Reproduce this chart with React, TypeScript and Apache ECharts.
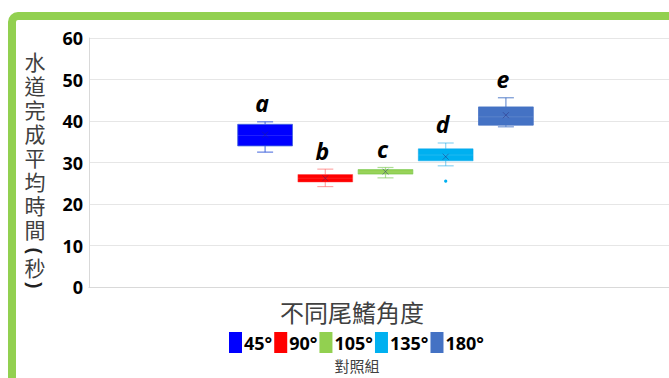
import React, { useEffect, useRef } from "react";
import * as echarts from "echarts";

const categories = ["45°", "90°", "105°", "135°", "180°"];
const whiskerMin = [32.5, 24.2, 26.3, 29.2, 38.6];
const quartile1 = [34.0, 25.3, 27.2, 30.4, 39.0];
const medians = [36.5, 26.2, 27.7, 31.8, 41.0];
const quartile3 = [39.2, 27.1, 28.3, 33.3, 43.4];
const whiskerMax = [39.8, 28.4, 28.8, 34.7, 45.6];
const means = [36.7, 26.2, 27.8, 31.4, 41.4];
const outliers: number[][] = [[], [], [], [25.5], []];
const letters = ["a", "b", "c", "d", "e"];
const yAxisTitleChars = ["水", "道", "完", "成", "平", "均", "時", "間"];
const yAxisTitleUnit = ["(", "秒", ")"];
const xAxisTitle = "不同尾鰭角度";
const subLabel = "對照組";

const fills = ["#0000FF", "#FF0000", "#92D050", "#00B0F0", "#4472C4"];
const lights = [
  "rgba(68,102,221,0.85)",
  "rgba(255,60,60,0.45)",
  "rgba(120,200,80,0.6)",
  "rgba(0,160,230,0.45)",
  "rgba(68,114,196,0.75)",
];

const CJK = '"Noto Sans CJK TC", "Noto Sans", sans-serif';
const NUM = '"Noto Sans", "Liberation Sans", sans-serif';

export default function App() {
  const ref = useRef<HTMLDivElement>(null);
  useEffect(() => {
    if (!ref.current) return;
    const chart = echarts.init(ref.current, null, { renderer: "svg" });

    const series: any[] = categories.map((name, i) => ({
      name,
      type: "custom",
      xAxisIndex: 1,
      yAxisIndex: 1,
      itemStyle: { color: fills[i] },
      dimensions: ["x", "min", "q1", "med", "q3", "max", "mean"],
      encode: { x: 0, y: [1, 2, 3, 4, 5] },
      data: [[i, whiskerMin[i], quartile1[i], medians[i], quartile3[i], whiskerMax[i], means[i]]],
      renderItem: (params: any, api: any) => {
        const x = api.value(0);
        const lo = api.coord([x, api.value(1)]);
        const b1 = api.coord([x, api.value(2)]);
        const md = api.coord([x, api.value(3)]);
        const b3 = api.coord([x, api.value(4)]);
        const hi = api.coord([x, api.value(5)]);
        const mn = api.coord([x, api.value(6)]);
        const band = api.size([1, 0])[0];
        const bw = band * 0.91;
        const cw = 16;
        const cx = lo[0];
        const lc = lights[i];
        const children: any[] = [
          { type: "line", shape: { x1: cx, y1: b3[1], x2: cx, y2: hi[1] }, style: { stroke: lc, lineWidth: 1.2 } },
          { type: "line", shape: { x1: cx, y1: b1[1], x2: cx, y2: lo[1] }, style: { stroke: lc, lineWidth: 1.2 } },
          { type: "line", shape: { x1: cx - cw / 2, y1: hi[1], x2: cx + cw / 2, y2: hi[1] }, style: { stroke: lc, lineWidth: 1.2 } },
          { type: "line", shape: { x1: cx - cw / 2, y1: lo[1], x2: cx + cw / 2, y2: lo[1] }, style: { stroke: lc, lineWidth: 1.2 } },
          {
            type: "rect",
            shape: { x: cx - bw / 2, y: b3[1], width: bw, height: b1[1] - b3[1] },
            style: { fill: fills[i], stroke: lc, lineWidth: 1 },
          },
          { type: "line", shape: { x1: cx - bw / 2, y1: md[1], x2: cx + bw / 2, y2: md[1] }, style: { stroke: "rgba(255,255,255,0.12)", lineWidth: 1 } },
          { type: "line", shape: { x1: cx - 3, y1: mn[1] - 3, x2: cx + 3, y2: mn[1] + 3 }, style: { stroke: "rgba(40,40,120,0.45)", lineWidth: 1 } },
          { type: "line", shape: { x1: cx - 3, y1: mn[1] + 3, x2: cx + 3, y2: mn[1] - 3 }, style: { stroke: "rgba(40,40,120,0.45)", lineWidth: 1 } },
          {
            type: "text",
            style: {
              text: letters[i],
              x: cx - 3,
              y: hi[1] - 7,
              align: "center",
              verticalAlign: "bottom",
              font: 'italic bold 23px "Noto Sans", sans-serif',
              fill: "#000",
            },
          },
        ];
        outliers[i].forEach((v) => {
          const p = api.coord([x, v]);
          children.push({ type: "circle", shape: { cx: p[0], cy: p[1], r: 1.6 }, style: { fill: fills[i] } });
        });
        return { type: "group", children };
      },
    }));

    const titleTexts: any[] = yAxisTitleChars.map((ch, k) => ({
      type: "text",
      x: 35,
      y: 61 + 24 * k,
      style: {
        text: ch,
        align: "center",
        verticalAlign: "middle",
        font: "21px " + CJK,
        lineHeight: 22,
        fill: "#404040",
      },
    }));
    const unitY = [251, 267, 285];
    yAxisTitleUnit.forEach((ch, k) => {
      const isParen = k !== 1;
      if (isParen) {
        titleTexts.push({
          type: "group",
          x: 35,
          y: unitY[k],
          rotation: -Math.PI / 2,
          children: [
            {
              type: "text",
              x: 0,
              y: 0,
              style: {
                text: ch,
                align: "center",
                verticalAlign: "middle",
                font: 'bold 19px "Noto Sans", sans-serif',
                lineHeight: 10,
                fill: "#222",
              },
            },
          ],
        });
      } else {
        titleTexts.push({
          type: "text",
          x: 35,
          y: unitY[k],
          style: { text: ch, align: "center", verticalAlign: "middle", font: "21px " + CJK, lineHeight: 22, fill: "#404040" },
        });
      }
    });

    chart.setOption({
      animation: false,
      grid: [
        { left: 89, top: 38, right: 0, bottom: 91, containLabel: false },
        { left: 235, top: 38, width: 301, bottom: 91, containLabel: false },
      ],
      xAxis: [
        {
          type: "category",
          gridIndex: 0,
          data: [""],
          axisLine: { show: true, lineStyle: { color: "#d9d9d9" } },
          axisTick: { show: false },
          axisLabel: { show: false },
          splitLine: { show: false },
        },
        {
          type: "category",
          gridIndex: 1,
          data: categories,
          show: false,
        },
      ],
      yAxis: [
        {
          type: "value",
          gridIndex: 0,
          min: 0,
          max: 60,
          interval: 10,
          axisLine: { show: true, lineStyle: { color: "#d9d9d9" } },
          axisTick: { show: false },
          axisLabel: { margin: 6, color: "#000", fontWeight: "bold", fontSize: 18, fontFamily: NUM },
          splitLine: { show: true, lineStyle: { color: "#e6e6e6", width: 1 } },
        },
        { type: "value", gridIndex: 1, min: 0, max: 60, interval: 10, show: false },
      ],
      legend: {
        data: categories,
        left: 229,
        top: 332,
        padding: 0,
        icon: "rect",
        itemWidth: 13,
        itemHeight: 21,
        itemGap: 2,
        textStyle: { fontSize: 18, fontWeight: "bold", color: "#000", fontFamily: NUM, padding: [0, 0, 0, -3] },
      },
      graphic: [
        {
          type: "rect",
          shape: { x: 12, y: 16, width: 720, height: 420, r: 6 },
          style: { fill: "none", stroke: "#92D050", lineWidth: 8 },
          silent: true,
        },
        ...titleTexts,
        {
          type: "text",
          x: 352,
          y: 311,
          style: { text: xAxisTitle, align: "center", verticalAlign: "middle", font: "24px " + CJK, fill: "#404040" },
        },
        {
          type: "text",
          x: 357,
          y: 365,
          style: { text: subLabel, align: "center", verticalAlign: "middle", font: "15px " + CJK, fill: "#404040" },
        },
      ],
      series,
    });
    return () => chart.dispose();
  }, []);
  return <div ref={ref} style={{ position: "fixed", left: 0, top: 0, width: 669, height: 378, background: "#fff" }} />;
}
